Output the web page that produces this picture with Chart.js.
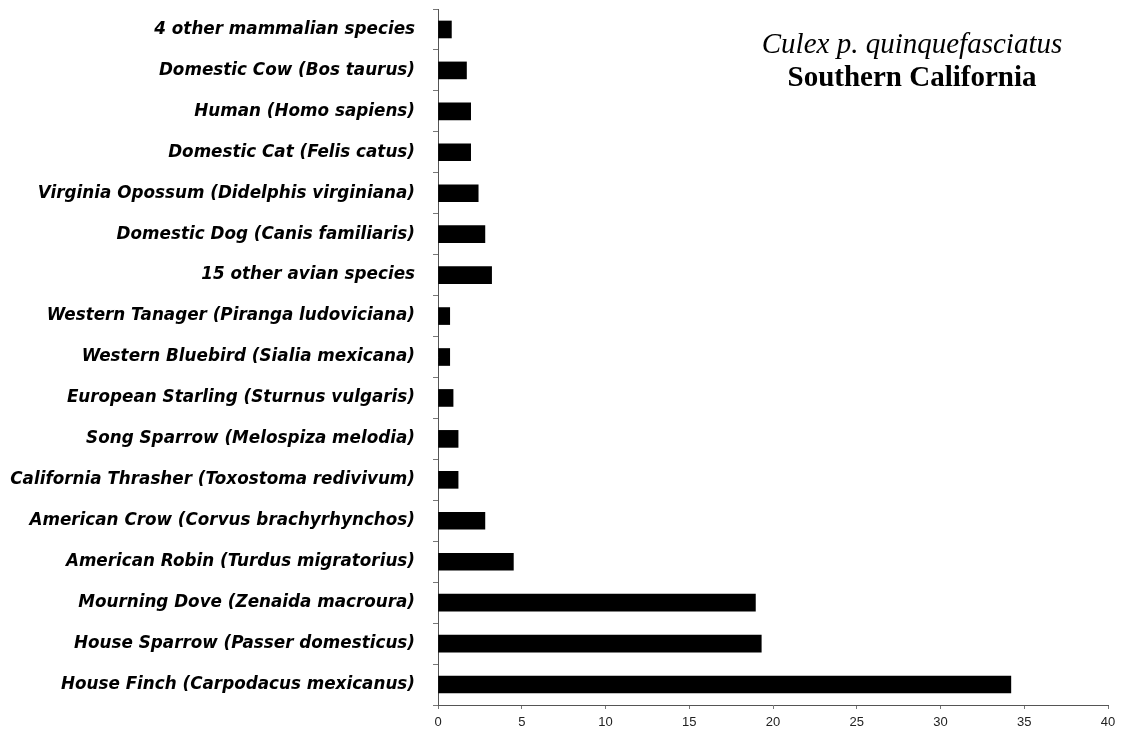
<!DOCTYPE html>
<html>
<head>
<meta charset="utf-8">
<script src="https://cdn.jsdelivr.net/npm/chart.js@4"></script>
<style>
  html, body { margin: 0; padding: 0; background: #fff; }
  #wrap { width: 1130px; height: 734px; position: relative; }
</style>
</head>
<body>
<div id="wrap"><canvas id="c" width="1130" height="734"></canvas></div>
<script>
// Host species of blood meals, listed top to bottom
const hosts = [
  "4 other mammalian species",
  "Domestic Cow (Bos taurus)",
  "Human (Homo sapiens)",
  "Domestic Cat (Felis catus)",
  "Virginia Opossum (Didelphis virginiana)",
  "Domestic Dog (Canis familiaris)",
  "15 other avian species",
  "Western Tanager (Piranga ludoviciana)",
  "Western Bluebird (Sialia mexicana)",
  "European Starling (Sturnus vulgaris)",
  "Song Sparrow (Melospiza melodia)",
  "California Thrasher (Toxostoma redivivum)",
  "American Crow (Corvus brachyrhynchos)",
  "American Robin (Turdus migratorius)",
  "Mourning Dove (Zenaida macroura)",
  "House Sparrow (Passer domesticus)",
  "House Finch (Carpodacus mexicanus)"
];

// Percentage of identified blood meals per host
const percentages = [
  0.8, 1.7, 1.95, 1.95, 2.4, 2.8, 3.2,
  0.7, 0.7, 0.9, 1.2, 1.2, 2.8, 4.5,
  18.95, 19.3, 34.2
];

const xTicks = [0, 5, 10, 15, 20, 25, 30, 35, 40];

const titleLines = ["Culex p. quinquefasciatus", "Southern California"];

const titlePlugin = {
  id: 'cornerTitle',
  afterDraw(chart) {
    const ctx = chart.ctx;
    const cx = 912;
    ctx.save();
    ctx.fillStyle = '#000';
    ctx.textAlign = 'center';
    ctx.textBaseline = 'alphabetic';
    ctx.font = 'italic 29px "Liberation Serif", "Times New Roman", serif';
    ctx.fillText(titleLines[0], cx, 53);
    ctx.font = 'bold 29px "Liberation Serif", "Times New Roman", serif';
    ctx.fillText(titleLines[1], cx, 86);
    ctx.restore();
  }
};

new Chart(document.getElementById('c'), {
  type: 'bar',
  data: {
    labels: hosts,
    datasets: [{
      data: percentages,
      backgroundColor: '#000',
      borderWidth: 0,
      barThickness: 17
    }]
  },
  options: {
    indexAxis: 'y',
    responsive: false,
    animation: false,
    layout: { padding: { top: 9, right: 22, bottom: 0, left: 0 } },
    plugins: {
      legend: { display: false },
      tooltip: { enabled: false }
    },
    scales: {
      x: {
        min: 0,
        max: 40,
        afterBuildTicks(scale) {
          scale.ticks = xTicks.map(v => ({ value: v }));
        },
        afterFit(scale) {
          scale.height = 29;
          scale.paddingLeft = 0;
          scale.paddingRight = 0;
        },
        grid: {
          drawOnChartArea: false,
          drawTicks: true,
          tickLength: 4,
          color: '#777'
        },
        border: { color: '#555', width: 1 },
        ticks: {
          color: '#222',
          padding: 6,
          font: { family: '"Liberation Sans", Arial, sans-serif', size: 13 }
        }
      },
      y: {
        afterFit(scale) {
          scale.width = 438;
          scale.paddingTop = 0;
          scale.paddingBottom = 0;
        },
        grid: {
          drawOnChartArea: false,
          drawTicks: true,
          tickLength: 5,
          offset: true,
          color: '#777'
        },
        border: { color: '#555', width: 1 },
        ticks: {
          color: '#000',
          padding: 18,
          autoSkip: false,
          font: { family: '"DejaVu Sans", Verdana, sans-serif', size: 16.8, weight: 'bold', style: 'italic' }
        }
      }
    }
  },
  plugins: [titlePlugin]
});
</script>
</body>
</html>
